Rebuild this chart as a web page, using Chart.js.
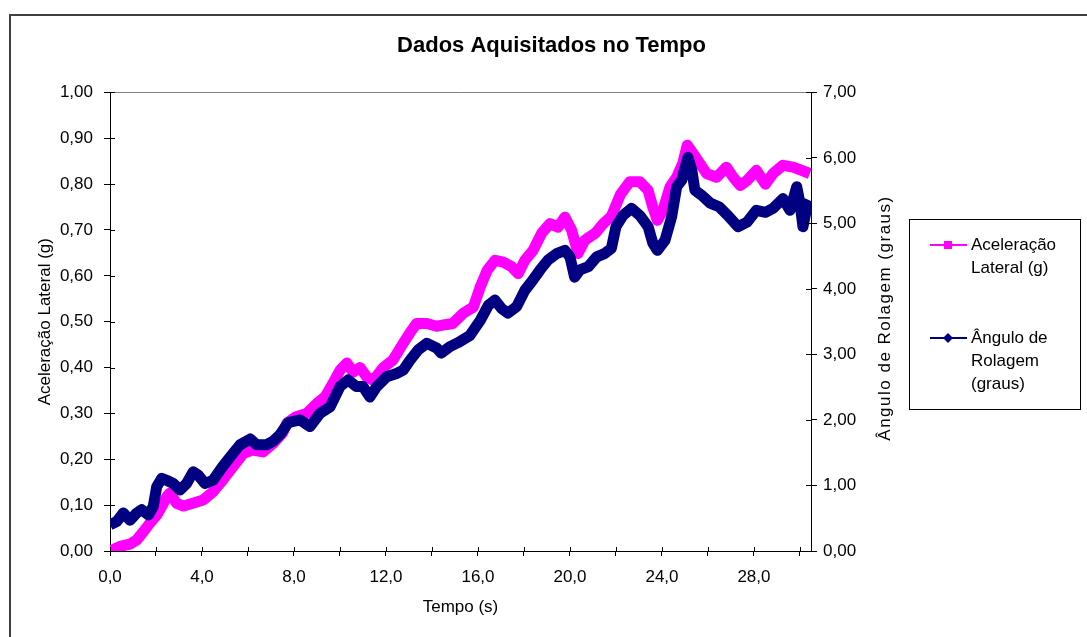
<!DOCTYPE html>
<html lang="pt">
<head>
<meta charset="utf-8">
<title>Dados Aquisitados no Tempo</title>
<script src="https://cdn.jsdelivr.net/npm/chart.js@4/dist/chart.umd.min.js"></script>
<style>
  html, body { margin: 0; padding: 0; background: #fff; }
  canvas { display: block; }
</style>
</head>
<body>
<canvas id="grafico" width="1087" height="637"></canvas>
<script>
// Leituras tiradas do gráfico original (tempo em s)
const tempoAcel = [0, 0.43, 0.87, 1.16, 1.45, 1.74, 2.03, 2.25, 2.46, 2.6, 2.9, 3.2, 3.6, 4.05, 4.48, 4.9,
  5.35, 5.8, 6.2, 6.65, 7.1, 7.5, 7.7, 8.1, 8.55, 9.0, 9.35, 9.7, 10.0, 10.3, 10.57, 10.87, 11.16, 11.45,
  11.88, 12.3, 12.75, 13.1, 13.33, 13.77, 14.2, 14.64, 14.9, 15.35, 15.8, 16.1, 16.4, 16.74, 17.1, 17.46,
  17.75, 18.04, 18.4, 18.77, 19.13, 19.48, 19.78, 20.07, 20.35, 20.65, 21.1, 21.45, 21.8, 22.2, 22.6, 23.04,
  23.4, 23.6, 23.8, 24.04, 24.35, 24.64, 24.9, 25.1, 25.35, 25.65, 25.94, 26.38, 26.8, 27.1, 27.4, 27.7,
  28.1, 28.5, 28.83, 29.26, 29.7, 30.07, 30.43];
const acelLateral = [0.00, 0.01, 0.015, 0.024, 0.042, 0.061, 0.078, 0.097, 0.118, 0.126, 0.104, 0.098, 0.104,
  0.111, 0.129, 0.155, 0.184, 0.213, 0.22, 0.216, 0.235, 0.257, 0.279, 0.293, 0.30, 0.322, 0.336, 0.366,
  0.394, 0.41, 0.39, 0.40, 0.38, 0.372, 0.40, 0.416, 0.453, 0.48, 0.496, 0.496, 0.49, 0.494, 0.496, 0.518,
  0.532, 0.576, 0.612, 0.634, 0.63, 0.62, 0.605, 0.634, 0.656, 0.693, 0.714, 0.706, 0.728, 0.70, 0.649,
  0.678, 0.693, 0.714, 0.73, 0.778, 0.805, 0.805, 0.786, 0.75, 0.721, 0.743, 0.794, 0.815, 0.845, 0.885,
  0.867, 0.845, 0.823, 0.815, 0.837, 0.815, 0.797, 0.808, 0.83, 0.80, 0.823, 0.841, 0.837, 0.83, 0.823];

const tempoRol = [0, 0.29, 0.58, 0.87, 1.16, 1.38, 1.67, 1.88, 2.03, 2.25, 2.46, 2.75, 3.04, 3.33, 3.62, 3.83,
  4.13, 4.48, 4.9, 5.35, 5.65, 6.1, 6.38, 6.8, 7.1, 7.4, 7.75, 8.26, 8.7, 9.13, 9.57, 10.0, 10.35, 10.72,
  11.0, 11.3, 11.6, 12.03, 12.46, 12.75, 13.04, 13.4, 13.77, 14.2, 14.4, 14.78, 15.13, 15.65, 16.1, 16.45,
  16.74, 17.03, 17.3, 17.68, 18.04, 18.33, 18.7, 19.04, 19.42, 19.78, 20.0, 20.2, 20.43, 20.8, 21.16, 21.5,
  21.8, 22.0, 22.3, 22.68, 23.04, 23.4, 23.6, 23.8, 24.13, 24.42, 24.64, 24.86, 25.13, 25.3, 25.43, 25.73,
  26.1, 26.5, 26.87, 27.3, 27.7, 28.1, 28.5, 28.83, 29.26, 29.57, 29.86, 30.0, 30.13, 30.3, 30.43];
const anguloRolagem = [0.40, 0.45, 0.58, 0.47, 0.58, 0.63, 0.55, 0.68, 0.98, 1.11, 1.08, 1.03, 0.93, 1.03,
  1.21, 1.16, 1.03, 1.08, 1.29, 1.49, 1.62, 1.71, 1.62, 1.62, 1.68, 1.78, 1.96, 2.0, 1.90, 2.10, 2.20, 2.51,
  2.61, 2.51, 2.51, 2.35, 2.51, 2.66, 2.71, 2.76, 2.91, 3.07, 3.17, 3.10, 3.02, 3.12, 3.18, 3.29, 3.52, 3.75,
  3.83, 3.70, 3.63, 3.73, 3.98, 4.11, 4.29, 4.44, 4.54, 4.59, 4.49, 4.18, 4.29, 4.34, 4.49, 4.54, 4.62, 4.95,
  5.12, 5.23, 5.12, 4.95, 4.70, 4.59, 4.74, 5.10, 5.56, 5.66, 6.01, 5.81, 5.51, 5.43, 5.31, 5.25, 5.12, 4.95,
  5.02, 5.20, 5.17, 5.23, 5.38, 5.20, 5.56, 5.31, 4.95, 5.25, 5.35];

const nomeAcel = 'Aceleração Lateral (g)';
const nomeRol = 'Ângulo de Rolagem (graus)';
const legendaAcel = ['Aceleração', 'Lateral (g)'];
const legendaRol = ['Ângulo de', 'Rolagem', '(graus)'];

const COR_ACEL = '#ff00ff';
const COR_ROL = '#000080';
const FONTE = "'Liberation Sans', Arial, sans-serif";

const fmt = (v, casas) => v.toFixed(casas).replace('.', ',');
const pares = (xs, ys) => xs.map((x, i) => ({ x, y: ys[i] }));

Chart.defaults.font.family = FONTE;
Chart.defaults.font.size = 17;
Chart.defaults.color = '#000';

// moldura, borda do topo, ticks cruzados, título do eixo direito e legenda ao estilo Excel
const estiloExcel = {
  id: 'estiloExcel',
  beforeDraw(chart) {
    const { ctx } = chart;
    ctx.save();
    ctx.fillStyle = '#fff';
    ctx.fillRect(0, 0, chart.width, chart.height);
    ctx.strokeStyle = '#404040';
    ctx.lineWidth = 2;
    ctx.strokeRect(10, 15, chart.width + 20, chart.height + 20);
    ctx.restore();
  },
  afterDraw(chart) {
    const { ctx, chartArea: a, scales } = chart;
    ctx.save();
    // borda superior da área de plotagem
    ctx.strokeStyle = '#808080';
    ctx.lineWidth = 1;
    ctx.beginPath();
    ctx.moveTo(a.left, Math.round(a.top) + 0.5);
    ctx.lineTo(a.right, Math.round(a.top) + 0.5);
    ctx.stroke();

    // metade interna das marcas de escala
    ctx.strokeStyle = '#000';
    ctx.beginPath();
    scales.x.ticks.forEach(t => {
      const px = Math.round(scales.x.getPixelForValue(t.value)) + 0.5;
      ctx.moveTo(px, a.bottom); ctx.lineTo(px, a.bottom - 4);
    });
    scales.y.ticks.forEach(t => {
      const py = Math.round(scales.y.getPixelForValue(t.value)) + 0.5;
      ctx.moveTo(a.left, py); ctx.lineTo(a.left + 5, py);
    });
    scales.y1.ticks.forEach(t => {
      const py = Math.round(scales.y1.getPixelForValue(t.value)) + 0.5;
      ctx.moveTo(a.right, py); ctx.lineTo(a.right - 5, py);
    });
    ctx.stroke();

    // título do eixo secundário (lido de baixo para cima)
    ctx.fillStyle = '#000';
    ctx.font = '17px ' + FONTE;
    ctx.textAlign = 'center';
    ctx.textBaseline = 'middle';
    ctx.save();
    ctx.letterSpacing = '1.5px';
    ctx.translate(885, 318);
    ctx.rotate(-Math.PI / 2);
    ctx.fillText(nomeRol, 0, 0);
    ctx.restore();

    // legenda
    ctx.strokeStyle = '#000';
    ctx.strokeRect(909.5, 219.5, 171, 190);
    const itens = [
      { linhas: legendaAcel, cor: COR_ACEL, marca: 'quadrado', y: 245 },
      { linhas: legendaRol, cor: COR_ROL, marca: 'losango', y: 338 },
    ];
    ctx.textAlign = 'left';
    itens.forEach(it => {
      ctx.strokeStyle = it.cor;
      ctx.lineWidth = 2;
      ctx.beginPath();
      ctx.moveTo(930, it.y); ctx.lineTo(967, it.y);
      ctx.stroke();
      ctx.fillStyle = it.cor;
      ctx.beginPath();
      if (it.marca === 'quadrado') {
        ctx.rect(944, it.y - 4, 8, 8);
      } else {
        ctx.moveTo(948, it.y - 5); ctx.lineTo(953, it.y);
        ctx.lineTo(948, it.y + 5); ctx.lineTo(943, it.y);
        ctx.closePath();
      }
      ctx.fill();
      ctx.fillStyle = '#000';
      it.linhas.forEach((txt, k) => ctx.fillText(txt, 971, it.y + k * 23));
    });
    ctx.restore();
  },
};

new Chart(document.getElementById('grafico'), {
  type: 'line',
  data: {
    datasets: [
      {
        label: nomeAcel, data: pares(tempoAcel, acelLateral), yAxisID: 'y',
        borderColor: COR_ACEL, backgroundColor: COR_ACEL, borderWidth: 11,
        pointRadius: 0, tension: 0, borderJoinStyle: 'round', order: 1,
      },
      {
        label: nomeRol, data: pares(tempoRol, anguloRolagem), yAxisID: 'y1',
        borderColor: COR_ROL, backgroundColor: COR_ROL, borderWidth: 11,
        pointRadius: 0, tension: 0, borderJoinStyle: 'round', order: 0,
      },
    ],
  },
  options: {
    responsive: false, animation: false, devicePixelRatio: 1,
    layout: { padding: { left: 16, right: 0, top: 0, bottom: 0 } },
    plugins: {
      legend: { display: false },
      tooltip: { enabled: false },
      title: {
        display: true, text: 'Dados Aquisitados no Tempo', color: '#000',
        font: { size: 22, weight: 'bold' }, padding: { top: 33, bottom: 33 },
      },
    },
    scales: {
      x: {
        type: 'linear', min: 0, max: 30.48,
        border: { color: '#000' },
        grid: { drawOnChartArea: false, color: '#000', tickLength: 5 },
        ticks: {
          stepSize: 2, autoSkip: false, includeBounds: false, maxRotation: 0, padding: 11,
          callback: v => (Math.round(v) % 4 === 0 ? fmt(v, 1) : ''),
        },
        title: { display: true, text: 'Tempo (s)', padding: { top: 0, bottom: 19 } },
        afterFit: s => { s.height = 86; },
      },
      y: {
        position: 'left', min: 0, max: 1,
        border: { color: '#000' },
        grid: { drawOnChartArea: false, color: '#000', tickLength: 6 },
        ticks: { stepSize: 0.1, padding: 11, callback: v => fmt(v, 2) },
        title: { display: true, text: nomeAcel, padding: { top: 19, bottom: 0 } },
        afterFit: s => { s.width = 94; },
      },
      y1: {
        position: 'right', min: 0, max: 7,
        border: { color: '#000' },
        grid: { drawOnChartArea: false, color: '#000', tickLength: 6 },
        ticks: { stepSize: 1, padding: 6, callback: v => fmt(v, 2) },
        afterFit: s => { s.width = 276; },
      },
    },
  },
  plugins: [estiloExcel],
});
</script>
</body>
</html>
